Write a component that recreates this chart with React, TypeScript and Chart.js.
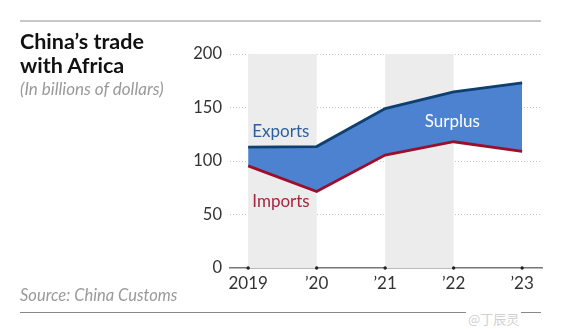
import React, { useEffect, useRef } from "react";
import { Chart, registerables } from "chart.js";

Chart.register(...registerables);

const years = ["2019", "\u201920", "\u201921", "\u201922", "\u201923"];
const exportsValues = [113, 113.5, 149, 164.5, 173];
const importsValues = [95.5, 71.5, 105.5, 118, 109];
const yTicks = [0, 50, 100, 150, 200];
const shadedBands = [
  [0, 1],
  [2, 3],
];
const title = ["China\u2019s trade", "with Africa"];
const subtitle = "(In billions of dollars)";
const source = "Source: China Customs";
const watermark = "@丁辰灵";

const FONT = "Lato, 'Open Sans', sans-serif";

export default function App() {
  const ref = useRef<HTMLCanvasElement>(null);

  useEffect(() => {
    if (!ref.current) return;

    const bgPlugin = {
      id: "bands",
      beforeDatasetsDraw(chart: any) {
        const { ctx, scales } = chart;
        const x = scales.x;
        const y = scales.y;
        ctx.save();
        ctx.fillStyle = "#ececec";
        for (const [a, b] of shadedBands) {
          const x0 = x.getPixelForValue(a);
          const x1 = x.getPixelForValue(b);
          const y0 = y.getPixelForValue(200);
          const y1 = y.getPixelForValue(0);
          ctx.fillRect(x0, y0, x1 - x0, y1 - y0);
        }
        ctx.restore();
      },
      afterDatasetsDraw(chart: any) {
        const { ctx, scales } = chart;
        const x = scales.x;
        const y = scales.y;
        ctx.save();
        ctx.fillStyle = "#222";
        years.forEach((_, i) => {
          ctx.beginPath();
          ctx.arc(x.getPixelForValue(i), y.getPixelForValue(0), 1.7, 0, Math.PI * 2);
          ctx.fill();
        });
        ctx.font = `17px ${FONT}`;
        ctx.textBaseline = "middle";
        ctx.textAlign = "left";
        ctx.fillStyle = "#2d5f9c";
        ctx.fillText("Exports", x.getPixelForValue(0.06), y.getPixelForValue(128));
        ctx.fillStyle = "#a3263f";
        ctx.fillText("Imports", x.getPixelForValue(0.06), y.getPixelForValue(62));
        ctx.textAlign = "center";
        ctx.fillStyle = "#ffffff";
        ctx.fillText("Surplus", x.getPixelForValue(2.98), y.getPixelForValue(137));
        ctx.restore();
      },
    };

    const chart = new Chart(ref.current, {
      type: "line",
      data: {
        datasets: [
          {
            label: "Exports",
            data: exportsValues.map((v, i) => ({ x: i, y: v })),
            borderColor: "#0d3f70",
            backgroundColor: "#4c82d0",
            borderWidth: 2.8,
            pointRadius: 0,
            fill: "+1",
            tension: 0,
            order: 1,
          },
          {
            label: "Imports",
            data: importsValues.map((v, i) => ({ x: i, y: v })),
            borderColor: "#9b0f2c",
            backgroundColor: "transparent",
            borderWidth: 2.8,
            pointRadius: 0,
            fill: false,
            tension: 0,
            order: 0,
          },
        ],
      },
      options: {
        responsive: false,
        animation: false,
        layout: { padding: { left: 0, right: 19, top: 54, bottom: 0 } },
        plugins: {
          legend: { display: false },
          tooltip: { enabled: false },
        },
        scales: {
          x: {
            type: "linear",
            min: -0.265,
            max: 4.29,
            afterBuildTicks: (s: any) => {
              s.ticks = years.map((_, i) => ({ value: i }));
            },
            afterFit: (s: any) => {
              s.height = 61;
            },
            grid: { display: false, drawTicks: false },
            border: { display: true, color: "#777", width: 1.5 },
            ticks: {
              padding: 5,
              color: "#333",
              font: { family: FONT, size: 17 },
              callback: (v: any) => years[v as number] ?? "",
              maxRotation: 0,
              autoSkip: false,
            },
          },
          y: {
            min: 0,
            max: 200,
            afterBuildTicks: (s: any) => {
              s.ticks = yTicks.map((v) => ({ value: v }));
            },
            afterFit: (s: any) => {
              s.width = 230;
            },
            grid: {
              drawTicks: false,
              color: (c: any) => (c.tick && c.tick.value === 0 ? "rgba(0,0,0,0)" : "#c8c8c8"),
              lineWidth: 1,
            },
            border: { display: false, dash: [1, 2] },
            ticks: {
              padding: 8,
              color: "#333",
              font: { family: FONT, size: 16.5 },
            },
          },
        },
      },
      plugins: [bgPlugin],
    });
    return () => chart.destroy();
  }, []);

  return (
    <div style={{ position: "fixed", left: 0, top: 0, width: 561, height: 329, background: "#fff", overflow: "hidden" }}>
      <canvas ref={ref} width={561} height={329} style={{ position: "absolute", left: 0, top: 0 }} />
      <div style={{ position: "absolute", left: 20, top: 20, width: 521, height: 0, borderTop: "2px solid #c8c8c8" }} />
      <div
        style={{
          position: "absolute",
          left: 20,
          top: 29,
          fontFamily: FONT,
          fontWeight: 700,
          fontSize: 21.5,
          lineHeight: "24px",
          color: "#111",
        }}
      >
        {title.map((t) => (
          <div key={t}>{t}</div>
        ))}
      </div>
      <div
        style={{
          position: "absolute",
          left: 20,
          top: 78,
          fontFamily: FONT,
          fontStyle: "italic",
          fontSize: 17,
          color: "#9a9a9a",
        }}
      >
        {subtitle}
      </div>
      <div
        style={{
          position: "absolute",
          left: 20,
          top: 285,
          fontFamily: FONT,
          fontStyle: "italic",
          fontSize: 16.5,
          color: "#9a9a9a",
        }}
      >
        {source}
      </div>
      <div style={{ position: "absolute", left: 20, top: 312, width: 521, height: 0, borderTop: "1px solid #888" }} />
      <div
        style={{
          position: "absolute",
          left: 466,
          top: 309,
          fontFamily: "'Noto Sans CJK SC', sans-serif",
          fontSize: 13,
          color: "#d0d0d0",
          background: "#fff",
          padding: "0 2px",
        }}
      >
        {watermark}
      </div>
    </div>
  );
}
